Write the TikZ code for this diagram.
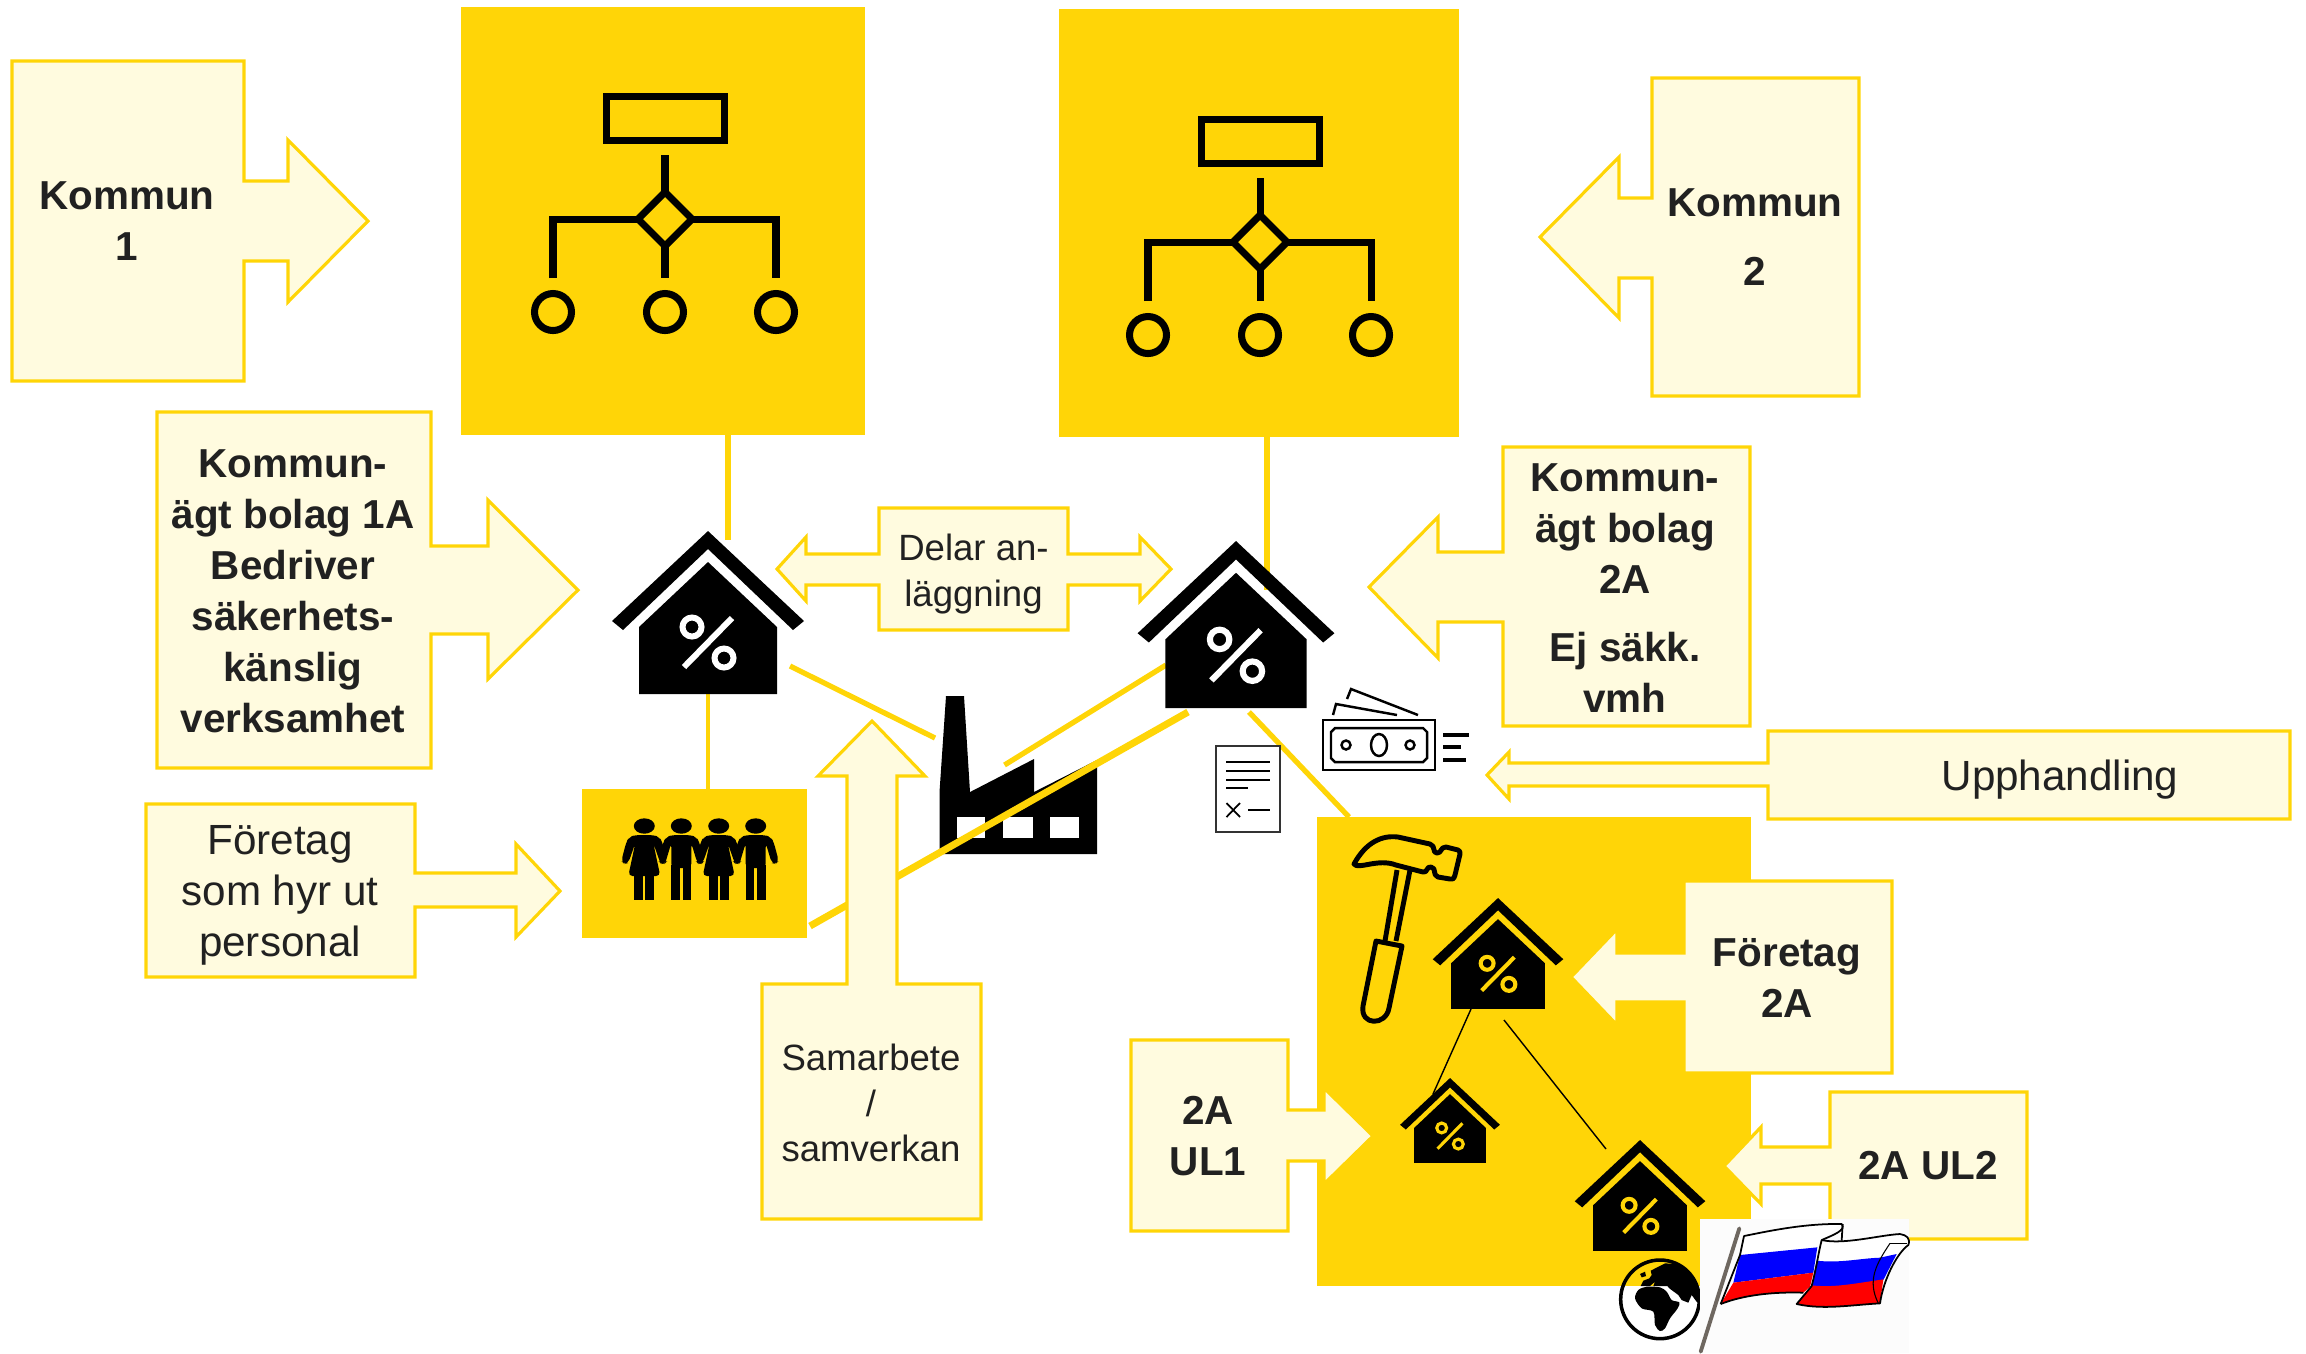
\documentclass[tikz,border=0pt]{standalone}
\usepackage{fontspec}
\setmainfont{Liberation Sans}
\definecolor{gul}{HTML}{FFD507}
\definecolor{ljusgul}{HTML}{FFFBDF}
\definecolor{texten}{HTML}{212121}
\definecolor{stang}{HTML}{6E6760}
\tikzset{
	callout/.style={draw=gul,fill=ljusgul,line width=.9pt,line join=miter},
	gulruta/.style={fill=gul,inner sep=0pt,outer sep=0pt},
	lank/.style={gul,line width=1.5pt},
	tunn/.style={black,line width=.4pt},
	fet/.style={font=\fontsize{11.5}{14.5}\selectfont\bfseries,align=center,text=texten},
	vanlig/.style={font=\fontsize{12}{14.5}\selectfont,align=center,text=texten},
	liten/.style={font=\fontsize{10.4}{12.9}\selectfont,align=center,text=texten},
}
% house with percent sign: name, x, y of the apex, scale, colour of the sign
\newcommand{\hus}[5]{
	\begin{scope}[shift={(#2,#3)},scale=#4]
		\coordinate (#1) at (0,0);
		\fill (0,0) -- (96,90) -- (85,99) -- (0,18) -- (-85,99) -- (-96,90) -- cycle;
		\fill (0,31) -- (69,96) -- (69,163) -- (-69,163) -- (-69,96) -- cycle;
		\draw[#5,line width=#4*1.7pt] (24,87) -- (-24,136);
		\draw[#5,line width=#4*1.7pt] (-16,96) circle (9.5);
		\draw[#5,line width=#4*1.7pt] (16,127) circle (9.5);
	\end{scope}
}
% organisation chart icon
\newcommand{\orgchart}[2]{
	\begin{scope}[shift={(#1,#2)},line width=2pt]
		\draw (-58.5,-122.5) rectangle (59.5,-78.5);
		\draw (0,-64) -- (0,-27);
		\draw (-112,59) -- (-112,0) -- (111,0) -- (111,59);
		\draw (0,27) -- (0,59);
		\draw[fill=gul] (0,-27) -- (27,0) -- (0,27) -- (-27,0) -- cycle;
		\draw (-112,93) circle (18.5);
		\draw (0,93) circle (18.5);
		\draw (111,93) circle (18.5);
	\end{scope}
}
\newcommand{\kvinna}[1]{
	\begin{scope}[shift={(#1,826)}]
		\fill (0,0) ellipse (10.5 and 7.7);
		\fill[rounded corners=1.2pt] (-9,9) -- (9,9) -- (15,11) -- (18,16) -- (23,35) -- (20,38) -- (16,37) -- (9,17) -- (16,50) -- (-16,50) -- (-9,17) -- (-16,37) -- (-20,38) -- (-23,35) -- (-18,16) -- (-15,11) -- cycle;
		\fill (-10,48) rectangle (-1,74);
		\fill (1,48) rectangle (10,74);
	\end{scope}
}
\newcommand{\man}[1]{
	\begin{scope}[shift={(#1,826)}]
		\fill (0,0) ellipse (10.5 and 7.7);
		\fill[rounded corners=1.2pt] (-9,9) -- (9,9) -- (15,11) -- (18,16) -- (23,35) -- (20,38) -- (16,37) -- (10,17) -- (10,42) -- (-10,42) -- (-10,17) -- (-16,37) -- (-20,38) -- (-23,35) -- (-18,16) -- (-15,11) -- cycle;
		\fill (-10,39) rectangle (-1.5,74);
		\fill (1.5,39) rectangle (10,74);
	\end{scope}
}
\begin{document}
\begin{tikzpicture}[x=.01cm,y=-.01cm]
	\useasboundingbox (0,0) rectangle (2306,1353);

	% connectors that lie behind the icons
	\coordinate (kopp1) at (728,540);
	\coordinate (kopp2) at (1267,590);
	\coordinate (fabrikV) at (935,738);
	\coordinate (fabrikH) at (1004.5,765);
	\coordinate (hus1H) at (790,666);
	\coordinate (hus2V) at (1166,665);
	\coordinate (hus2foot) at (1249,712);
	\coordinate (bolagtop) at (1349,817);
	\coordinate (hus1foot) at (708,694);

	\node[gulruta,minimum width=4.03cm,minimum height=4.28cm] (org1) at (663,221) {};
	\node[gulruta,minimum width=3.99cm,minimum height=4.28cm] (org2) at (1259,223) {};
	\node[gulruta,minimum width=2.25cm,minimum height=1.49cm] (folk) at (694.5,863.5) {};
	\node[gulruta,minimum width=4.34cm,minimum height=4.69cm] (bolag) at (1534,1051.5) {};

	\draw[lank] (kopp1 |- org1.south) -- (kopp1);
	\draw[lank] (kopp2 |- org2.south) -- (kopp2);
	\draw[lank,line width=1.1pt] (hus1foot) -- (hus1foot |- folk.north);
	\draw[lank] (hus1H) -- (fabrikV);
	\draw[lank] (hus2V) -- (fabrikH);
	\draw[lank] (hus2foot) -- (bolagtop);

	\orgchart{665}{219}
	\orgchart{1260}{242}

	\hus{hus1}{708}{531}{1}{white}
	\hus{hus2}{1236}{541}{1.025}{white}

	\kvinna{644.3}
	\man{681.3}
	\kvinna{718.7}
	\man{755.7}

	% factory
	\fill (946,696) -- (964,696) -- (970,792) -- (1034,759) -- (1034,792) -- (1097,760) -- (1097,854) -- (939.5,854) -- (939.5,792) -- cycle;
	\fill[white] (957,817) rectangle (985,838);
	\fill[white] (1003,817) rectangle (1032.6,838);
	\fill[white] (1050,817) rectangle (1079,838);
	\coordinate (tjock1) at (1188,712);
	\coordinate (tjock2) at (810,926);
	\draw[lank,line width=2pt] (tjock1) -- (tjock2);

	% document
	\draw[fill=white,draw=black!80,line width=.6pt] (1216,746) rectangle (1280,832);
	\draw[line width=.8pt] (1226,762) -- (1270,762);
	\draw[line width=.8pt] (1226,771) -- (1270,771);
	\draw[line width=.8pt] (1226,780) -- (1270,780);
	\draw[line width=.8pt] (1226,788) -- (1248,788);
	\draw[line width=.5pt] (1226.5,803) -- (1240,817);
	\draw[line width=.5pt] (1226.5,817) -- (1240,803);
	\draw[line width=.8pt] (1248,810) -- (1270,810);

	% money
	\draw[line width=.8pt,fill=white] (1323,720) rectangle (1435,770);
	\draw[line width=.7pt] (1335,728) -- (1423,728) -- (1427,732) -- (1427,758) -- (1423,762) -- (1335,762) -- (1331,758) -- (1331,732) -- cycle;
	\draw[line width=.7pt] (1379,745) ellipse (8 and 11);
	\draw[line width=.7pt] (1346,745) circle (4.5);
	\draw[line width=.7pt] (1410,745) circle (4.5);
	\draw[line width=1.1pt] (1443,735) -- (1469,735);
	\draw[line width=1.1pt] (1443,747) -- (1461,747);
	\draw[line width=1.1pt] (1443,760) -- (1466,760);
	\draw[line width=.7pt] (1333,715) -- (1336,704) -- (1397,715);
	\draw[line width=.7pt] (1347,699) -- (1351,689) -- (1418,715);

	% arrows with text
	\draw[callout] (12,61) -- (244,61) -- (244,181) -- (288,181) -- (288,140) -- (368,221) -- (288,302) -- (288,261) -- (244,261) -- (244,381) -- (12,381) -- cycle;
	\node[fet] (kommun1) at (127,221) {Kommun\\1};

	\draw[callout] (1859,78) -- (1652,78) -- (1652,198) -- (1619,198) -- (1619,157) -- (1540,237) -- (1619,318) -- (1619,278) -- (1652,278) -- (1652,396) -- (1859,396) -- cycle;
	\node[fet,font=\fontsize{11.5}{19.6}\selectfont\bfseries] (kommun2) at (1755,237) {Kommun\\2};

	\draw[callout] (157,412) -- (431,412) -- (431,546) -- (488,546) -- (488,500) -- (578,590) -- (488,679) -- (488,634) -- (431,634) -- (431,768) -- (157,768) -- cycle;
	\node[fet] (bolag1a) at (293,591) {Kommun-\\ägt bolag 1A\\Bedriver\\säkerhets-\\känslig\\verksamhet};

	\draw[callout] (1503,447) -- (1750,447) -- (1750,726) -- (1503,726) -- (1503,622) -- (1438,622) -- (1438,658) -- (1369,587) -- (1438,517) -- (1438,552) -- (1503,552) -- cycle;
	\node[fet] (bolag2a) at (1625,588) {Kommun-\\ägt bolag\\2A\\[5pt]Ej säkk.\\vmh};

	\draw[callout] (879,508) -- (1068,508) -- (1068,554) -- (1140,554) -- (1140,537) -- (1171,569) -- (1140,601) -- (1140,585) -- (1068,585) -- (1068,630) -- (879,630) -- (879,585) -- (806,585) -- (806,601) -- (777,569) -- (806,537) -- (806,554) -- (879,554) -- cycle;
	\node[liten] (delar) at (973.5,574) {Delar an-\\läggning};

	\draw[callout] (146,804) -- (415,804) -- (415,873) -- (516,873) -- (516,844) -- (560,891) -- (516,937) -- (516,907) -- (415,907) -- (415,977) -- (146,977) -- cycle;
	\node[vanlig] (hyrut) at (280,895) {Företag\\som hyr ut\\personal};

	\draw[callout] (847,984) -- (847,776) -- (818,776) -- (872,721) -- (925,776) -- (897,776) -- (897,984) -- (981,984) -- (981,1219) -- (762,1219) -- (762,984) -- cycle;
	\node[liten] (samarbete) at (871,1103) {Samarbete\\/\\samverkan};

	\draw[callout] (2290,731) -- (2290,819) -- (1768,819) -- (1768,786) -- (1509,786) -- (1509,799) -- (1487,775) -- (1509,752) -- (1509,763) -- (1768,763) -- (1768,731) -- cycle;
	\node[vanlig] (upphandling) at (2060,780) {Upphandling};

	% inside the company box
	\hus{husA}{1498}{898}{.68}{gul}
	\hus{husB}{1450}{1078}{.52}{gul}
	\hus{husC}{1640}{1140}{.68}{gul}
	\coordinate (husAv) at (1471,1009);
	\coordinate (husBh) at (1433,1094);
	\coordinate (husAh) at (1504,1020);
	\coordinate (husCv) at (1606,1149);
	\draw[tunn] (husAv) -- (husBh);
	\draw[tunn] (husAh) -- (husCv);

	% hammer
	\draw[line width=1.4pt,line join=round] (1397,870) -- (1385,941);
	\draw[line width=1.4pt,line join=round] (1410,870) -- (1396,941);
	\draw[line width=1.4pt,line join=round] (1376,941) -- (1402,946) -- (1389,1008) .. controls (1386,1026) and (1360,1026) .. (1363,1006) -- cycle;
	\draw[line width=1.4pt,line join=round] (1354,864) .. controls (1366,842) and (1382,835) .. (1398,837) -- (1430,844) .. controls (1436,846) and (1432,853) .. (1437,853) .. controls (1442,853) and (1440,847) .. (1446,847) -- (1458,850) .. controls (1460,851) and (1460,852) .. (1460,854) -- (1455,875) .. controls (1454,879) and (1452,880) .. (1450,879) -- (1438,877) .. controls (1432,875) and (1437,868) .. (1431,867) .. controls (1426,866) and (1428,873) .. (1423,872) -- (1396,865) .. controls (1378,858) and (1358,870) .. (1354,864) -- cycle;

	\draw[callout] (1684,881) -- (1892,881) -- (1892,1073) -- (1684,1073) -- (1684,1002) -- (1617,1002) -- (1617,1025) -- (1571,977) -- (1617,929) -- (1617,953) -- (1684,953) -- cycle;
	\node[fet] (foretag2a) at (1787,978) {Företag\\2A};

	\draw[callout] (1131,1040) -- (1288,1040) -- (1288,1110) -- (1324,1110) -- (1324,1088) -- (1373,1136) -- (1324,1184) -- (1324,1161) -- (1288,1161) -- (1288,1231) -- (1131,1231) -- cycle;
	\node[fet] (ul1) at (1208,1136) {2A\\UL1};

	\draw[callout] (1830,1092) -- (2027,1092) -- (2027,1239) -- (1830,1239) -- (1830,1184) -- (1761,1184) -- (1761,1204) -- (1724,1166) -- (1761,1127) -- (1761,1147) -- (1830,1147) -- cycle;
	\node[fet] (ul2) at (1928,1166) {2A UL2};

	% globe
	\begin{scope}[shift={(1610,1250)},scale=.3333]
		\begin{scope}
			\clip (150,148) circle (120);
			\fill (122,62) -- (165,40) -- (200,42) -- (240,65) -- (275,100) -- (275,140) -- (262,158) -- (245,135) -- (235,158) -- (215,150) -- (205,135) -- (178,115) -- (172,108) -- (130,108) -- (135,95) -- (120,108) -- (92,108) -- (100,92) -- (118,85) -- (125,75) -- cycle;
			\fill (90,72) -- (105,65) -- (108,78) -- (95,82) -- cycle;
			\fill plot[smooth cycle] coordinates {(75,145) (85,120) (110,110) (150,112) (170,125) (185,150) (208,157) (203,175) (180,205) (165,235) (150,243) (135,225) (130,185) (95,175)};
		\end{scope}
		\draw[line width=1pt] (150,148) circle (118);
	\end{scope}

	% flag
	\fill[black!1] (1700,1219) rectangle (1909,1353);
	\begin{scope}[shift={(1700,1210)},scale=.3333]
		\draw[stang,line width=1.1pt,line cap=round] (118,55) -- (2,425);
		% left part
		\fill[white] (132,78) .. controls (220,60) and (320,40) .. (420,42) -- (375,85) -- (352,112) -- (120,135) -- cycle;
		\fill[blue] (120,135) -- (352,112) -- (340,188) -- (100,218) -- cycle;
		\fill[red] (100,218) -- (340,188) -- (330,230) -- (310,248) .. controls (220,245) and (130,255) .. (62,282) -- cycle;
		\draw[line width=.5pt,line join=round] (62,282) -- (120,135) -- (132,78) .. controls (220,60) and (320,40) .. (425,42) .. controls (440,60) and (400,75) .. (365,90);
		\draw[line width=.5pt] (428,42) -- (425,92);
		\draw[line width=.5pt] (62,282) .. controls (130,255) and (220,245) .. (310,248);
		% right part
		\fill[white] (365,90) .. controls (430,105) and (540,75) .. (600,72) .. controls (620,75) and (630,90) .. (625,105) -- (590,135) -- (540,150) .. controls (480,145) and (420,160) .. (350,152) -- cycle;
		\fill[blue] (350,152) .. controls (420,160) and (480,145) .. (540,143) -- (590,132) -- (550,210) -- (515,215) .. controls (450,225) and (400,235) .. (335,228) -- cycle;
		\fill[red] (335,226) .. controls (400,233) and (450,223) .. (550,208) -- (540,280) .. controls (450,285) and (370,300) .. (290,282) -- cycle;
		\draw[line width=.5pt,line join=round] (290,282) .. controls (370,300) and (450,285) .. (540,280) .. controls (550,210) and (590,130) .. (625,105) .. controls (632,85) and (620,75) .. (600,72) .. controls (540,75) and (430,105) .. (365,90) .. controls (355,130) and (350,170) .. (335,228) -- cycle;
		\draw[line width=.3pt] (570,100) .. controls (530,160) and (500,210) .. (535,280);
		\draw[line width=.3pt] (570,100) -- (620,100);
	\end{scope}
\end{tikzpicture}
\end{document}
